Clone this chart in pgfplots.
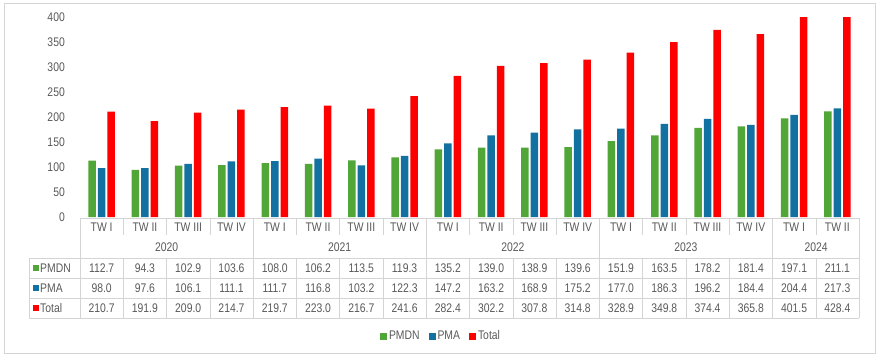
\documentclass[border=0pt]{standalone}
\usepackage{fontspec}
\setmainfont{Liberation Sans}[FakeStretch=0.83]
\usepackage{pgfplots}
\usepackage{pgfplotstable}
\pgfplotsset{compat=1.18}
\definecolor{cG}{RGB}{80,166,54}
\definecolor{cB}{RGB}{18,113,160}
\definecolor{cR}{RGB}{255,0,0}
\definecolor{txt}{RGB}{89,89,89}
\definecolor{gridc}{RGB}{212,212,212}

\pgfplotstableread{
x PMDN PMA Total
0 112.7 98.0 210.7
1 94.3 97.6 191.9
2 102.9 106.1 209.0
3 103.6 111.1 214.7
4 108.0 111.7 219.7
5 106.2 116.8 223.0
6 113.5 103.2 216.7
7 119.3 122.3 241.6
8 135.2 147.2 282.4
9 139.0 163.2 302.2
10 138.9 168.9 307.8
11 139.6 175.2 314.8
12 151.9 177.0 328.9
13 163.5 186.3 349.8
14 178.2 196.2 374.4
15 181.4 184.4 365.8
16 197.1 204.4 401.5
17 211.1 217.3 428.4
}\data

\begin{document}
\begin{tikzpicture}[font=\fontsize{12.5}{14}\selectfont]
\path[use as bounding box] (0,0) rectangle (878pt,-361pt);
\draw[gridc] (4pt,-3pt) rectangle (875pt,-353pt);

\begin{axis}[
  at={(80pt,-217pt)}, anchor=south west, scale only axis,
  width=779pt, height=200pt,
  xmin=-0.5, xmax=17.5, ymin=0, ymax=400,
  ybar=2pt, bar width=7.5pt,
  axis line style={draw=none}, major tick length=0pt,
  ytick={0,50,...,400},
  yticklabel style={text=txt, inner sep=0pt, xshift=-15pt},
  xtick={0,...,17},
  xticklabels={TW I,TW II,TW III,TW IV,TW I,TW II,TW III,TW IV,TW I,TW II,TW III,TW IV,TW I,TW II,TW III,TW IV,TW I,TW II},
  xticklabel style={text=txt, anchor=center, yshift=-10pt},
  /pgf/number format/assume math mode=true,
  clip=false,
  legend style={at={(0.4634,-0.595)}, anchor=center, draw=none, fill=none,
    legend columns=-1, text=txt,
    /tikz/every even column/.append style={column sep=7pt}},
  legend image code/.code={\fill[#1,draw=none] (0pt,-3.5pt) rectangle (7pt,3.5pt);},
]
\addplot[fill=cG, draw=none] table[x=x,y=PMDN]{\data};
\addplot[fill=cB, draw=none] table[x=x,y=PMA]{\data};
\addplot[fill=cR, draw=none, restrict y to domain*=0:400] table[x=x,y=Total]{\data};
\legend{PMDN,PMA,Total}
\end{axis}

\begin{axis}[
  at={(80pt,-217pt)}, anchor=south west, scale only axis,
  width=779pt, height=200pt,
  xmin=-0.5, xmax=17.5, ymin=0, ymax=400,
  hide axis, clip=false,
  /pgf/number format/fixed, /pgf/number format/fixed zerofill,
  /pgf/number format/precision=1, /pgf/number format/assume math mode=true,
  nodes near coords, point meta=explicit,
  every node near coord/.append style={anchor=center, text=txt, inner sep=0pt},
]
\addplot[draw=none, mark=none] table[x=x, y expr=-102, meta=PMDN]{\data};
\addplot[draw=none, mark=none] table[x=x, y expr=-142, meta=PMA]{\data};
\addplot[draw=none, mark=none] table[x=x, y expr=-182, meta=Total]{\data};
\end{axis}

% table grid
\draw[gridc] (80pt,-218pt) -- (859pt,-218pt);
\foreach \yy in {258,278,298,318} \draw[gridc] (29pt,-\yy pt) -- (859pt,-\yy pt);
\draw[gridc] (29pt,-258pt) -- (29pt,-318pt);
\draw[gridc] (80pt,-218pt) -- (80pt,-318pt);
\foreach \k in {1,2,3,5,6,7,9,10,11,13,14,15,17} {
  \draw[gridc] ({(80+43.278*\k)*1pt},-218pt) -- ({(80+43.278*\k)*1pt},-235pt);
  \draw[gridc] ({(80+43.278*\k)*1pt},-258pt) -- ({(80+43.278*\k)*1pt},-318pt);
}
\foreach \k in {4,8,12,16,18}
  \draw[gridc] ({(80+43.278*\k)*1pt},-218pt) -- ({(80+43.278*\k)*1pt},-318pt);

% year labels
\foreach \yr/\cx in {2020/166.6,2021/339.7,2022/512.8,2023/685.9,2024/816.2}
  \node[text=txt, anchor=center, inner sep=0pt] at (\cx pt,-247pt) {\yr};

% row labels
\fill[cG] (33pt,-265pt) rectangle (39pt,-271pt);
\fill[cB] (33pt,-285pt) rectangle (39pt,-291pt);
\fill[cR] (33pt,-305pt) rectangle (39pt,-311pt);
\node[text=txt, anchor=west, inner sep=0pt] at (40pt,-268pt) {PMDN};
\node[text=txt, anchor=west, inner sep=0pt] at (40pt,-288pt) {PMA};
\node[text=txt, anchor=west, inner sep=0pt] at (40pt,-308pt) {Total};
\end{tikzpicture}
\end{document}
